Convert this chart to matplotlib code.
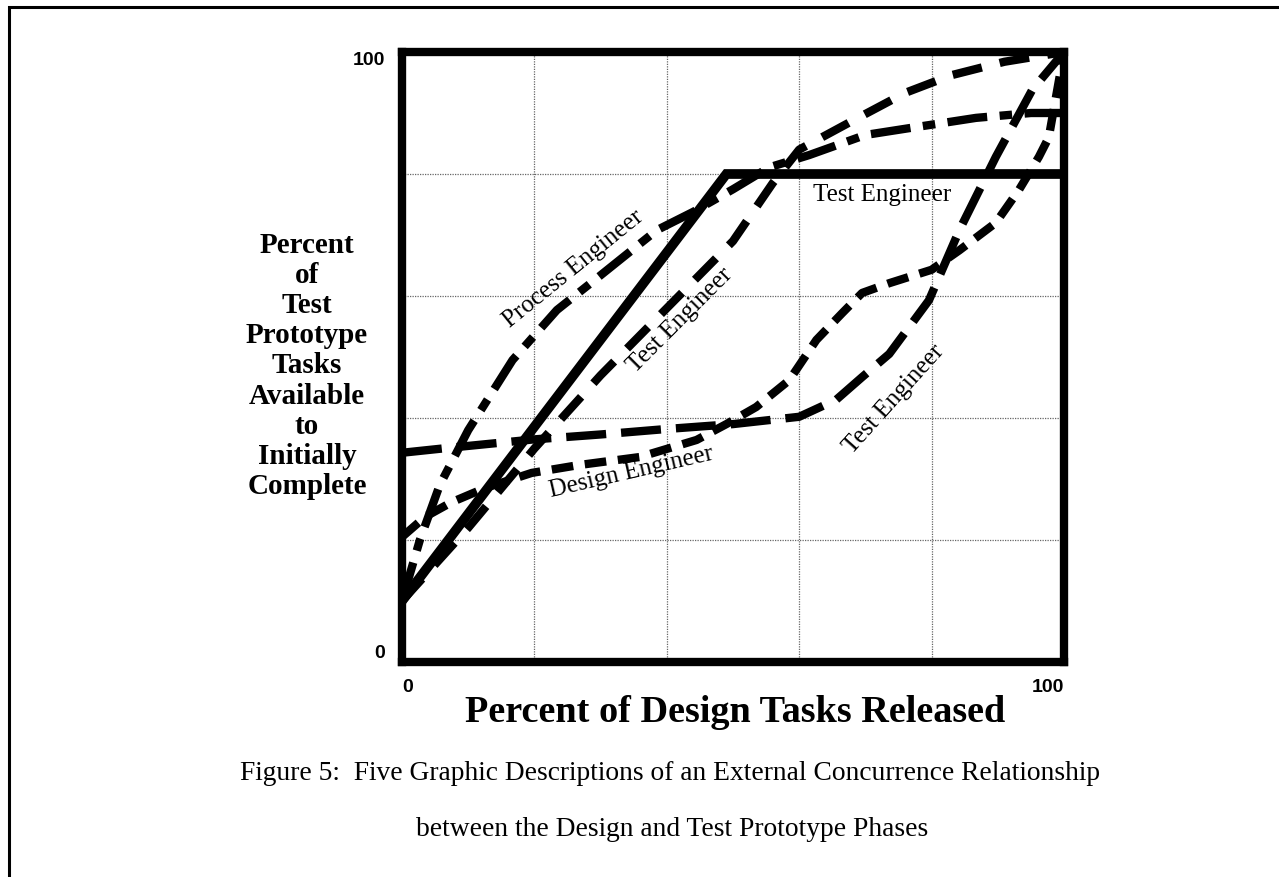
import matplotlib
matplotlib.use("Agg")
import matplotlib.pyplot as plt
from matplotlib.patches import Rectangle

# (percent of design released vs percent of test tasks available)
solid_x = [0, 49, 100]
solid_y = [10, 80, 80]

process_x = [0, 2.7, 5.7, 10, 16.7, 23.4, 30, 38.5, 44, 50, 55.5, 61.5, 70, 77.7, 86.7, 95, 100]
process_y = [10, 20, 29, 38, 49.5, 57.7, 63.4, 70.8, 73.8, 77.5, 81.1, 83.1, 86.4, 87.7, 89.2, 90, 90]

test_mid_x = [0, 10, 20, 30, 40, 50, 56, 60, 67.5, 76, 83, 91, 100]
test_mid_y = [10, 22, 35, 47, 58, 69, 78.5, 84, 88.4, 93.3, 96.2, 98.4, 100]

design_x = [0, 3.5, 7.5, 12.5, 19.6, 26.8, 35.9, 44.5, 49, 53.5, 58.5, 62.6, 66.5,
            69.5, 73.6, 80, 84.2, 89.7, 93.2, 96.2, 97.7, 100]
design_y = [20.5, 23.8, 26.2, 28.5, 31, 32.3, 33.6, 36.4, 39, 41.8, 46.2, 52.8, 57.2,
            60.5, 62.1, 64.3, 67.5, 72, 77.4, 82.8, 86, 100]

test_low_x = [0, 7, 20, 30, 40, 50, 60, 65.6, 69.5, 73.6, 79.6, 84.2, 89.7, 95.2, 100]
test_low_y = [34.3, 35.1, 36.5, 37.3, 38.2, 39, 40.2, 43, 46.7, 50.5, 59.3, 70.8, 82.8, 93.8, 100]

# (text, x, y, rotation)
labels = [
    ("Process Engineer", 25.9, 64.5, 39),
    ("Test Engineer", 42.0, 56.0, 45),
    ("Test Engineer", 72.5, 76.6, 0),
    ("Design Engineer", 34.7, 31.1, 13),
    ("Test Engineer", 74.3, 43.0, 48),
]

SERIF = "Liberation Serif"
SANS = "Liberation Sans"

W, H = 1279, 877
fig = plt.figure(figsize=(W / 100, H / 100), dpi=100)

# page frame
fig.add_artist(Rectangle((9 / W, -0.05), 1.1, 1 - 7 / H + 0.05, transform=fig.transFigure,
                         fill=False, lw=2.2, ec="black"))

ax = fig.add_axes([402 / W, 1 - 662 / H, (1064 - 402) / W, (662 - 52) / H])
ax.set_xlim(0, 100)
ax.set_ylim(0, 100)

for s in ax.spines.values():
    s.set_linewidth(6)
    s.set_capstyle("projecting")

# grid every 20 %
ax.set_xticks(range(20, 100, 20), minor=True)
ax.set_yticks(range(20, 100, 20), minor=True)
ax.grid(which="minor", color="0.4", lw=0.9, linestyle=(0, (1, 1)))
ax.tick_params(which="minor", length=0)

ax.set_xticks([0, 100])
ax.set_xticklabels(["0", "100"])
ax.set_yticks([0, 100])
ax.set_yticklabels(["0", "100"])
ax.tick_params(which="major", length=0, labelsize=14)
ax.tick_params(axis="x", pad=12)
ax.tick_params(axis="y", pad=12)
for lab in ax.get_xticklabels() + ax.get_yticklabels():
    lab.set_fontfamily(SANS)
    lab.set_fontweight("bold")
xl = ax.get_xticklabels()
xl[0].set_ha("left")
xl[1].set_ha("right")
yl = ax.get_yticklabels()
yl[0].set_va("bottom")
yl[1].set_va("top")

ax.plot(solid_x, solid_y, color="black", lw=7, solid_joinstyle="miter")
ax.plot(process_x, process_y, color="black", lw=6, dashes=(4.8, 1.5, 1.5, 1.5))
ax.plot(test_mid_x, test_mid_y, color="black", lw=6, dashes=(3.6, 2.2))
ax.plot(design_x, design_y, color="black", lw=6, dashes=(2.6, 1.4))
ax.plot(test_low_x, test_low_y, color="black", lw=6, dashes=(4.8, 1.8))

for text, x, y, rot in labels:
    ax.text(x, y, text, rotation=rot, rotation_mode="anchor", ha="center", va="center",
            fontsize=18, fontfamily=SERIF)

fig.text(307 / W, 1 - 366 / H,
         "Percent\nof\nTest\nPrototype\nTasks\nAvailable\nto\nInitially\nComplete",
         ha="center", va="center", fontsize=21, fontweight="bold", fontfamily=SERIF,
         linespacing=1.15)
fig.text(735 / W, 1 - 713 / H, "Percent of Design Tasks Released", ha="center", va="center",
         fontsize=27.5, fontweight="bold", fontfamily=SERIF)

fig.text(670 / W, 1 - 773 / H,
         "Figure 5:  Five Graphic Descriptions of an External Concurrence Relationship",
         ha="center", va="center", fontsize=19.8, fontfamily=SERIF)
fig.text(672 / W, 1 - 830 / H, "between the Design and Test Prototype Phases",
         ha="center", va="center", fontsize=19.8, fontfamily=SERIF)

fig.savefig("out.png", dpi=100)
